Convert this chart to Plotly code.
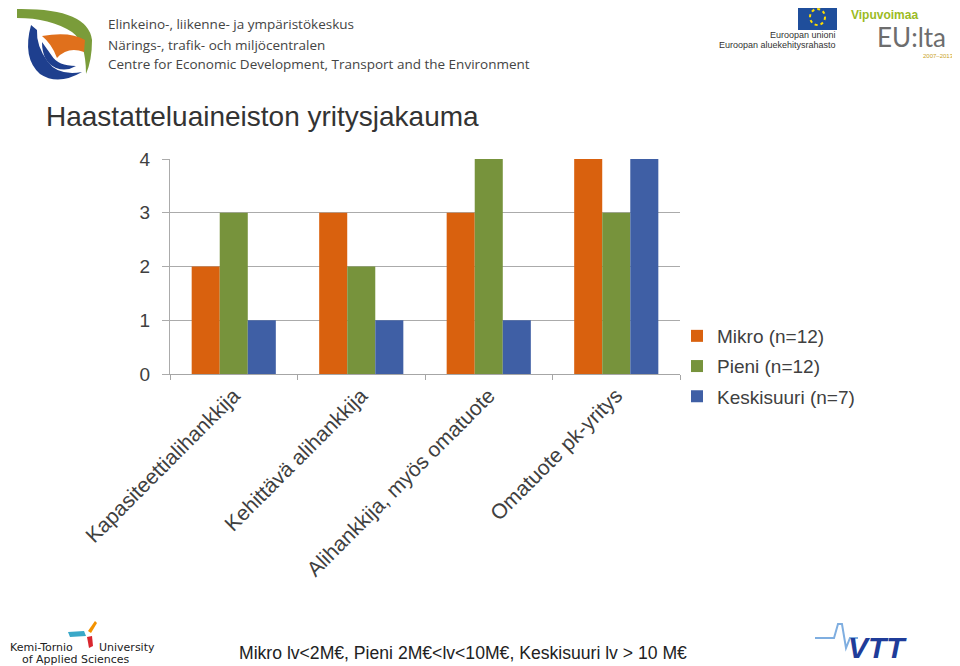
import plotly.graph_objects as go

categories = ["Kapasiteettialihankkija", "Kehittävä alihankkija",
              "Alihankkija, myös omatuote", "Omatuote pk-yritys"]
series_names = ["Mikro (n=12)", "Pieni (n=12)", "Keskisuuri (n=7)"]
mikro = [2, 3, 3, 4]
pieni = [3, 2, 4, 3]
keskisuuri = [1, 1, 1, 4]
colors = ["#D9610E", "#77933C", "#3F5FA5"]
y_ticks = [0, 1, 2, 3, 4]

# page has an 8px body margin; reference coordinates are window coordinates
OFF = 8
W, H = 960, 666
L, R, T, B = 170, 680, 159, 374


def px(x):
    return (x - L) / (R - L)


def py(y):
    return (B - y) / (B - T)


def path(points, close=True):
    s = ""
    for cmd, pts in points:
        s += cmd + " " + " ".join(f"{px(a):.4f},{py(b):.4f}" for a, b in pts) + " "
    return s + ("Z" if close else "")


fig = go.Figure()
for i, (name, vals, c) in enumerate(zip(series_names, [mikro, pieni, keskisuuri], colors)):
    fig.add_trace(go.Bar(x=categories, y=vals, name=name, marker_color=c,
                         marker_line_width=0, legendgroup=f"g{i}"))

font = "Liberation Sans, Arial, sans-serif"
fig.update_layout(
    width=W - OFF, height=H - OFF,
    margin=dict(l=L - OFF, r=W - R, t=T - OFF, b=H - B, pad=0),
    paper_bgcolor="white", plot_bgcolor="white",
    barmode="group", bargap=0.34, bargroupgap=0,
    font=dict(family=font, color="#404040"),
    showlegend=True,
    legend=dict(x=px(677), y=py(317), xanchor="left", yanchor="top",
                font=dict(size=19, color="#404040"), itemwidth=30,
                tracegroupgap=2.5, bgcolor="rgba(0,0,0,0)"),
    xaxis=dict(showgrid=False, showline=True, linecolor="#A6A6A6", linewidth=1,
               ticks="outside", tickson="boundaries", ticklen=5, tickcolor="#A6A6A6",
               tickangle=-45, tickfont=dict(size=21, color="#404040")),
    yaxis=dict(range=[0, 4], tickvals=y_ticks, showgrid=True, gridcolor="#ABABAB",
               gridwidth=1, showline=True, linecolor="#ABABAB", zeroline=False,
               ticks="outside", ticklen=7, tickcolor="#ABABAB", ticklabelstandoff=8,
               tickfont=dict(size=19, color="#404040")),
)

anns = []
# Title
anns.append(dict(x=px(44), y=py(116), text="Haastatteluaineiston yritysjakauma",
                 font=dict(size=28, color="#333333", family=font)))
# ELY texts
for yy, t in [(24, "Elinkeino-, liikenne- ja ympäristökeskus"),
              (45, "Närings-, trafik- och miljöcentralen"),
              (64, "Centre for Economic Development, Transport and the Environment")]:
    anns.append(dict(x=px(106), y=py(yy), text=t,
                     font=dict(size=13.5, color="#444444", family="Open Sans, sans-serif")))
# EU texts
anns.append(dict(x=px(838), y=py(35), text="Euroopan unioni", xanchor="right",
                 font=dict(size=9, color="#333333")))
anns.append(dict(x=px(838), y=py(45), text="Euroopan aluekehitysrahasto", xanchor="right",
                 font=dict(size=9, color="#333333")))
anns.append(dict(x=px(849), y=py(15), text="<b>Vipuvoimaa</b>",
                 font=dict(size=12, color="#9BBB1F")))
anns.append(dict(x=px(875), y=py(37), text="EU:lta",
                 font=dict(size=26, color="#6D6D6D", family="Lato, sans-serif")))
anns.append(dict(x=px(956), y=py(56), text="2007–2013", xanchor="right",
                 font=dict(size=6, color="#C9A227")))
# Bottom
anns.append(dict(x=px(237), y=py(653), text="Mikro lv<2M€, Pieni 2M€<lv<10M€, Keskisuuri lv > 10 M€",
                 font=dict(size=17.6, color="#222222", family=font)))
anns.append(dict(x=px(8), y=py(647), text="Kemi-Tornio", font=dict(size=11, color="#222222",
                 family="DejaVu Sans")))
anns.append(dict(x=px(97), y=py(647), text="University", font=dict(size=11, color="#222222",
                 family="DejaVu Sans")))
anns.append(dict(x=px(20), y=py(659), text="of Applied Sciences", font=dict(size=11, color="#222222",
                 family="DejaVu Sans")))
anns.append(dict(x=px(846), y=py(647), text="<b><i>VTT</i></b>",
                 font=dict(size=30, color="#1F3C99", family="Liberation Sans")))
for a in anns:
    a.update(xref="paper", yref="paper", showarrow=False,
             xanchor=a.get("xanchor", "left"), yanchor="middle")
    fig.add_annotation(**a)

shapes = []
# ELY logo approximation
shapes.append(dict(type="path", path=path([("M", [(17, 9)]), ("Q", [(88, 8), (92, 40)]),
                                            ("Q", [(92, 60), (86, 74)]), ("Q", [(86, 42), (72, 32)]),
                                            ("Q", [(50, 18), (17, 18)])]),
                   fillcolor="#7A9C3A", line_width=0))
shapes.append(dict(type="path", path=path([("M", [(42, 36)]), ("Q", [(70, 31), (85, 40)]),
                                            ("L", [(84, 52)]), ("Q", [(68, 46), (57, 58)]),
                                            ("Q", [(52, 44), (42, 36)])]),
                   fillcolor="#E0701C", line_width=0))
shapes.append(dict(type="path", path=path([("M", [(31, 25)]), ("Q", [(22, 58), (40, 74)]),
                                            ("Q", [(58, 86), (82, 72)]), ("Q", [(58, 76), (48, 62)]),
                                            ("Q", [(36, 46), (37, 30)])]),
                   fillcolor="#1E3F8E", line_width=0))
shapes.append(dict(type="path", path=path([("M", [(42, 42)]), ("Q", [(42, 62), (56, 68)]),
                                            ("Q", [(66, 72), (76, 66)]), ("Q", [(58, 66), (52, 56)])]),
                   fillcolor="#1E3F8E", line_width=0))
# EU flag
shapes.append(dict(type="rect", x0=px(798), x1=px(837), y0=py(30), y1=py(4),
                   fillcolor="#1F4E9B", line_width=0))
shapes.append(dict(type="circle", x0=px(810), x1=px(825), y0=py(25), y1=py(9),
                   line=dict(color="#FFDD00", width=2, dash="dot")))
# Kemi-Tornio mark
shapes.append(dict(type="path", path=path([("M", [(88, 631)]), ("L", [(95, 621)]),
                                            ("L", [(97, 623)]), ("L", [(91, 633)])]),
                   fillcolor="#F39200", line_width=0))
shapes.append(dict(type="path", path=path([("M", [(68, 632)]), ("L", [(84, 631)]),
                                            ("L", [(86, 636)]), ("L", [(70, 637)])]),
                   fillcolor="#3AA8C8", line_width=0))
shapes.append(dict(type="path", path=path([("M", [(87, 637)]), ("L", [(92, 636)]),
                                            ("L", [(93, 646)]), ("L", [(89, 648)])]),
                   fillcolor="#D9262E", line_width=0))
# VTT pulse line
pulse = [(815, 638), (834, 638), (838, 624), (842, 624), (846, 648), (850, 638), (858, 638)]
pulse_cmds = [("M", [pulse[0]])] + [("L", [p]) for p in pulse[1:]]
shapes.append(dict(type="path", path=path(pulse_cmds, close=False),
                   line=dict(color="#7FAEE0", width=2)))
for s in shapes:
    s.update(xref="paper", yref="paper", layer="above")
    fig.add_shape(**s)

fig.write_html("out.html")
